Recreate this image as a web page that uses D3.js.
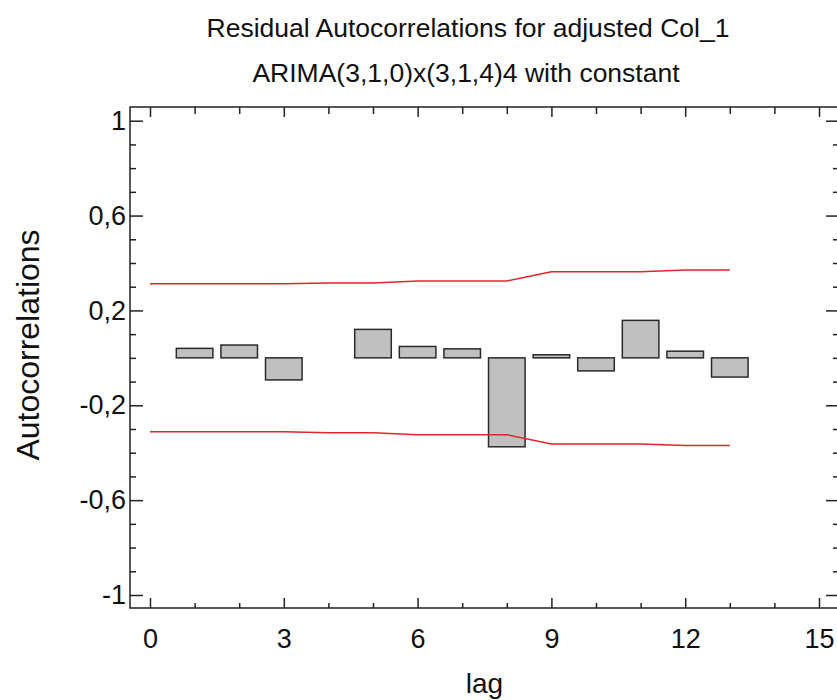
<!DOCTYPE html>
<html>
<head>
<meta charset="utf-8">
<script src="https://cdn.jsdelivr.net/npm/d3@7"></script>
<style>
  html, body { margin: 0; padding: 0; background: #fff; }
  svg { display: block; }
  text { font-family: "Liberation Sans", Arial, sans-serif; fill: #111; }
</style>
</head>
<body>
<svg id="chart" width="837" height="700"></svg>
<script>
// ---- Data ----
const titleLine1 = "Residual Autocorrelations for adjusted Col_1";
const titleLine2 = "ARIMA(3,1,0)x(3,1,4)4 with constant";
const xLabel = "lag";
const yLabel = "Autocorrelations";

const lags = [1, 2, 3, 4, 5, 6, 7, 8, 9, 10, 11, 12, 13];
const autocorr = [0.040, 0.054, -0.093, 0, 0.120, 0.048, 0.038, -0.375, 0.013, -0.055, 0.158, 0.028, -0.081];

const limitLags = [0, 1, 2, 3, 4, 5, 6, 7, 8, 9, 10, 11, 12, 13];
const upperLimit = [0.312, 0.312, 0.312, 0.312, 0.316, 0.316, 0.324, 0.324, 0.324, 0.363, 0.363, 0.363, 0.370, 0.370];
const lowerLimit = [-0.312, -0.312, -0.312, -0.312, -0.316, -0.316, -0.324, -0.324, -0.324, -0.363, -0.363, -0.363, -0.370, -0.370];

const xMajorTicks = [0, 3, 6, 9, 12, 15];
const xMinorTicks = [1, 2, 4, 5, 7, 8, 10, 11, 13, 14];
const yMajorTicks = [-1, -0.6, -0.2, 0.2, 0.6, 1];
const yMinorTicks = [-0.9, -0.8, -0.7, -0.5, -0.4, -0.3, -0.1, 0, 0.1, 0.3, 0.4, 0.5, 0.7, 0.8, 0.9];

// ---- Layout ----
const frame = { left: 130, top: 107, right: 839, bottom: 608 };
const svg = d3.select("#chart");

const x = d3.scaleLinear().domain([0, 15]).range([150, 819]);
const y = d3.scaleLinear().domain([-1, 1]).range([595, 120.7]);

const fmt = d => String(d).replace(".", ",");
const axisColor = "#222";

// Titles
svg.append("text").attr("x", 468).attr("y", 37).attr("text-anchor", "middle")
  .style("font-size", "26.5px").text(titleLine1);
svg.append("text").attr("x", 466).attr("y", 82).attr("text-anchor", "middle")
  .style("font-size", "26.5px").text(titleLine2);

// Bars
const barW = x(0.82) - x(0);
const bars = lags.map((l, i) => ({ lag: l, v: autocorr[i] })).filter(d => d.v !== 0);
svg.append("g").selectAll("rect").data(bars).join("rect")
  .attr("x", d => x(d.lag) - barW / 2)
  .attr("y", d => y(Math.max(0, d.v)))
  .attr("width", barW)
  .attr("height", d => Math.abs(y(d.v) - y(0)))
  .attr("fill", "#c0c0c0")
  .attr("stroke", "#2a2a2a")
  .attr("stroke-width", 1.5);

// Limit lines
const line = d3.line().x(d => x(d[0])).y(d => y(d[1]));
[upperLimit, lowerLimit].forEach(arr => {
  svg.append("path")
    .datum(limitLags.map((l, i) => [l, arr[i]]))
    .attr("d", line)
    .attr("fill", "none")
    .attr("stroke", "#e2252b")
    .attr("stroke-width", 1.5);
});

// Axes
function styleAxis(g) {
  g.selectAll("path, line").attr("stroke", axisColor).attr("stroke-width", 1.5);
  g.selectAll("text").style("font-size", "27px").attr("fill", "#111");
}

// bottom major
svg.append("g").attr("transform", `translate(0,${frame.bottom})`)
  .call(d3.axisBottom(x).tickValues(xMajorTicks).tickFormat(fmt)
    .tickSizeInner(-10).tickSizeOuter(0).tickPadding(21))
  .call(styleAxis)
  .call(g => g.select(".domain").remove());
// bottom minor
svg.append("g").attr("transform", `translate(0,${frame.bottom})`)
  .call(d3.axisBottom(x).tickValues(xMinorTicks).tickFormat("")
    .tickSizeInner(-5).tickSizeOuter(0))
  .call(styleAxis)
  .call(g => g.select(".domain").remove());
// top major / minor
svg.append("g").attr("transform", `translate(0,${frame.top})`)
  .call(d3.axisTop(x).tickValues(xMajorTicks).tickFormat("")
    .tickSizeInner(-10).tickSizeOuter(0))
  .call(styleAxis)
  .call(g => g.select(".domain").remove());
svg.append("g").attr("transform", `translate(0,${frame.top})`)
  .call(d3.axisTop(x).tickValues(xMinorTicks).tickFormat("")
    .tickSizeInner(-7).tickSizeOuter(0))
  .call(styleAxis)
  .call(g => g.select(".domain").remove());
// left major / minor
svg.append("g").attr("transform", `translate(${frame.left},0)`)
  .call(d3.axisLeft(y).tickValues(yMajorTicks).tickFormat(fmt)
    .tickSizeInner(-13).tickSizeOuter(0).tickPadding(4))
  .call(styleAxis)
  .call(g => g.select(".domain").remove());
svg.append("g").attr("transform", `translate(${frame.left},0)`)
  .call(d3.axisLeft(y).tickValues(yMinorTicks).tickFormat("")
    .tickSizeInner(-6).tickSizeOuter(0))
  .call(styleAxis)
  .call(g => g.select(".domain").remove());
// right major / minor
svg.append("g").attr("transform", `translate(${frame.right},0)`)
  .call(d3.axisRight(y).tickValues(yMajorTicks).tickFormat("")
    .tickSizeInner(-13).tickSizeOuter(0))
  .call(styleAxis)
  .call(g => g.select(".domain").remove());
svg.append("g").attr("transform", `translate(${frame.right},0)`)
  .call(d3.axisRight(y).tickValues(yMinorTicks).tickFormat("")
    .tickSizeInner(-6).tickSizeOuter(0))
  .call(styleAxis)
  .call(g => g.select(".domain").remove());

// Frame
svg.append("rect")
  .attr("x", frame.left).attr("y", frame.top)
  .attr("width", frame.right - frame.left).attr("height", frame.bottom - frame.top)
  .attr("fill", "none").attr("stroke", axisColor).attr("stroke-width", 1.5);

// Axis labels
svg.append("text").attr("x", x(7.5)).attr("y", 693).attr("text-anchor", "middle")
  .style("font-size", "28px").text(xLabel);
svg.append("text")
  .attr("transform", `translate(39,345) rotate(-90)`)
  .attr("text-anchor", "middle")
  .style("font-size", "32px").text(yLabel);
</script>
</body>
</html>
